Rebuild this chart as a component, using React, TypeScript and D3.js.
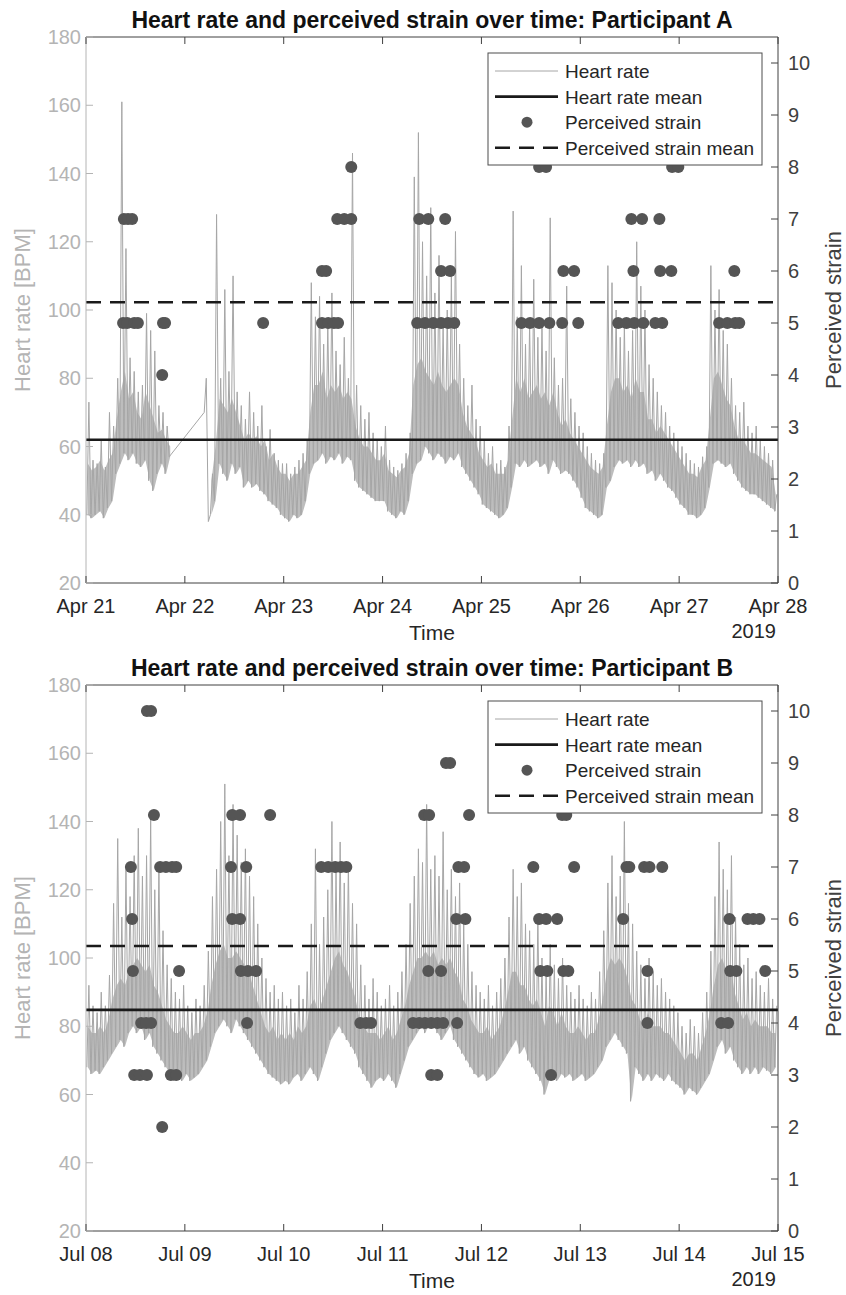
import React from 'react';
import * as d3 from 'd3';

// --------------------------------------------------------
// Participant A (Apr 21 - Apr 28 2019)
// heart rate per hour: low reading, upper edge of the dense band, and the peak reading
// one row per day, null where the recording stops
// --------------------------------------------------------
const hrLowA = [
  40, 39, 40, 41, 39, 42, 44, 52, 55, 58, 56, 58, 55, 54, 56, 50, 47, 52, 55, 52, 57, null, null, null,
  null, null, null, null, null, 80, 40, 44, 55, 52, 50, 55, 52, 54, 48, 50, 48, 49, 47, 46, 44, 43, 42, 40,
  39, 38, 40, 39, 40, 44, 52, 55, 56, 58, 55, 57, 56, 58, 55, 57, 56, 50, 48, 47, 46, 45, 44, 44,
  44, 41, 40, 39, 41, 40, 44, 52, 55, 56, 60, 58, 56, 58, 57, 55, 57, 56, 58, 54, 52, 50, 48, 46,
  43, 42, 41, 40, 39, 40, 42, 48, 55, 54, 56, 54, 55, 56, 54, 55, 52, 56, 54, 52, 53, 52, 50, 48,
  45, 42, 41, 40, 39, 40, 48, 50, 54, 56, 55, 56, 54, 56, 54, 55, 52, 53, 50, 52, 50, 48, 47, 45,
  43, 42, 40, 40, 39, 40, 42, 48, 55, 56, 55, 54, 55, 52, 50, 48, 47, 46, 46, 45, 44, 43, 42, 41,
];
const hrCoreA = [
  55, 53, 54, 56, 53, 56, 58, 68, 76, 82, 74, 76, 70, 68, 76, 72, 68, 64, 65, 62, 60, null, null, null,
  null, null, null, null, null, null, 50, 60, 74, 72, 70, 74, 70, 66, 62, 64, 62, 63, 60, 62, 56, 58, 54, 52,
  52, 50, 52, 52, 54, 56, 70, 78, 78, 82, 74, 78, 76, 78, 74, 76, 74, 66, 62, 60, 60, 58, 56, 56,
  58, 53, 52, 51, 53, 54, 58, 78, 84, 86, 82, 80, 78, 82, 78, 76, 78, 80, 78, 70, 66, 64, 62, 58,
  56, 54, 55, 52, 52, 52, 56, 68, 80, 76, 80, 74, 76, 78, 74, 76, 72, 76, 70, 66, 68, 64, 62, 60,
  58, 56, 54, 53, 52, 54, 66, 76, 80, 80, 76, 78, 74, 80, 76, 76, 68, 68, 64, 66, 64, 62, 60, 58,
  56, 54, 52, 52, 51, 54, 56, 68, 80, 82, 78, 74, 72, 66, 62, 62, 60, 58, 58, 57, 56, 55, 54, 46,
];
const hrPeakA = [
  73, 56, 55, 62, 54, 70, 66, 80, 161, 118, 86, 82, 76, 78, 99, 94, 88, 72, 70, 66, null, null, null, null,
  null, null, null, null, 70, 38, 52, 128, 80, 106, 82, 110, 76, 72, 68, 76, 70, 66, 72, 60, 65, 58, 56, 55,
  55, 52, 54, 56, 58, 62, 108, 98, 104, 90, 96, 105, 88, 84, 92, 80, 146, 78, 72, 68, 70, 64, 62, 60,
  66, 56, 54, 53, 55, 58, 64, 139, 152, 120, 110, 130, 105, 116, 96, 100, 110, 123, 90, 80, 72, 78, 68, 66,
  62, 58, 60, 55, 56, 54, 66, 129, 98, 113, 90, 96, 109, 92, 96, 88, 127, 86, 78, 80, 107, 74, 70, 66,
  64, 60, 58, 56, 55, 58, 113, 108, 100, 92, 96, 88, 94, 120, 107, 100, 84, 80, 76, 72, 70, 66, 64, 62,
  60, 58, 56, 55, 54, 57, 60, 113, 100, 106, 94, 90, 80, 72, 70, 73, 66, 64, 66, 62, 60, 58, 56, 46,
];
// perceived strain: [hours since Apr 21 00:00, rating]
const strainA: [number, number][] = [
  [9.2, 7], [10.2, 7], [11.2, 7],
  [9.0, 5], [10.0, 5], [11.7, 5], [12.6, 5], [18.7, 5], [19.2, 5], [18.5, 4],
  [43.0, 5],
  [57.3, 6], [58.3, 6], [57.3, 5], [58.8, 5], [60.2, 5], [61.2, 5],
  [61.0, 7], [62.7, 7], [64.4, 7], [64.4, 8],
  [80.9, 7], [83.1, 7], [87.2, 7], [86.2, 6], [88.4, 6],
  [80.4, 5], [82.3, 5], [84.3, 5], [86.2, 5], [87.9, 5], [89.4, 5],
  [110.0, 8], [111.7, 8], [115.9, 6], [118.5, 6],
  [105.7, 5], [107.8, 5], [110.0, 5], [112.5, 5], [115.6, 5], [119.5, 5],
  [132.4, 7], [135.0, 7], [139.2, 7], [132.9, 6], [139.4, 6], [142.1, 6],
  [129.2, 5], [131.2, 5], [133.1, 5], [135.3, 5], [138.2, 5], [139.9, 5],
  [142.3, 8], [143.8, 8],
  [157.4, 6], [153.7, 5], [155.7, 5], [157.6, 5], [158.6, 5],
];
const hrMeanA = 62;
const strainMeanA = 5.4;

// --------------------------------------------------------
// Participant B (Jul 08 - Jul 15 2019)
// --------------------------------------------------------
const hrLowB = [
  68, 66, 67, 66, 68, 70, 72, 74, 76, 74, 78, 80, 78, 80, 76, 78, 74, 72, 70, 68, 66, 64, 65, 64,
  66, 64, 65, 66, 68, 70, 74, 78, 80, 82, 80, 78, 82, 80, 78, 76, 74, 72, 70, 68, 66, 65, 64, 63,
  64, 63, 65, 66, 64, 66, 68, 66, 64, 68, 72, 76, 78, 80, 78, 76, 74, 72, 68, 66, 64, 62, 64, 65,
  64, 66, 64, 62, 66, 70, 74, 76, 78, 80, 78, 82, 80, 78, 76, 78, 80, 76, 74, 72, 70, 68, 66, 65,
  66, 64, 65, 66, 68, 70, 72, 74, 76, 72, 74, 70, 68, 66, 64, 60, 64, 66, 64, 66, 65, 66, 64, 65,
  66, 64, 65, 66, 68, 70, 74, 76, 78, 76, 74, 72, 58, 68, 66, 64, 66, 64, 66, 65, 64, 66, 64, 63,
  62, 60, 62, 61, 60, 62, 64, 66, 70, 74, 76, 72, 74, 70, 68, 66, 68, 66, 68, 66, 68, 67, 66, 68,
];
const hrCoreB = [
  80, 78, 78, 80, 78, 82, 88, 92, 94, 92, 96, 98, 100, 98, 96, 98, 92, 90, 86, 82, 80, 78, 78, 80,
  78, 76, 78, 78, 80, 84, 92, 98, 102, 104, 100, 100, 102, 100, 98, 96, 92, 88, 84, 80, 78, 80, 76, 78,
  76, 78, 76, 80, 78, 80, 86, 88, 84, 88, 92, 96, 100, 102, 98, 96, 92, 88, 82, 80, 78, 78, 78, 76,
  78, 80, 76, 78, 82, 86, 92, 96, 100, 100, 102, 100, 102, 98, 100, 98, 100, 96, 94, 88, 86, 82, 80, 78,
  78, 80, 76, 78, 80, 84, 90, 96, 96, 92, 92, 88, 86, 88, 84, 80, 86, 84, 80, 84, 80, 78, 78, 80,
  78, 76, 78, 78, 82, 88, 96, 100, 98, 100, 98, 94, 88, 86, 82, 80, 84, 80, 80, 80, 78, 78, 76, 74,
  72, 70, 72, 72, 70, 74, 78, 84, 92, 98, 100, 96, 98, 90, 86, 82, 84, 80, 82, 80, 80, 80, 78, 78,
];
const hrPeakB = [
  92, 86, 84, 90, 86, 95, 116, 135, 112, 126, 118, 130, 138, 124, 130, 141, 120, 128, 108, 98, 94, 90, 88, 92,
  86, 84, 88, 86, 92, 102, 118, 126, 140, 151, 130, 145, 136, 128, 132, 124, 118, 110, 100, 94, 90, 92, 88, 90,
  86, 88, 84, 92, 88, 96, 110, 132, 104, 112, 120, 140, 126, 134, 122, 128, 116, 110, 98, 92, 88, 94, 90, 86,
  88, 92, 86, 90, 96, 104, 116, 124, 132, 128, 145, 126, 130, 124, 137, 120, 126, 118, 122, 110, 104, 96, 92, 90,
  88, 92, 86, 90, 94, 100, 112, 126, 118, 122, 110, 108, 104, 112, 100, 96, 104, 98, 94, 100, 92, 90, 88, 92,
  88, 86, 90, 88, 96, 108, 122, 130, 118, 124, 140, 116, 110, 102, 98, 94, 100, 96, 92, 94, 90, 88, 86, 84,
  80, 78, 82, 80, 78, 84, 90, 102, 118, 134, 126, 120, 130, 112, 104, 98, 100, 94, 96, 92, 90, 94, 88, 86,
];
const strainB: [number, number][] = [
  [14.8, 10], [15.8, 10],
  [16.5, 8], [35.5, 8], [37.4, 8], [44.7, 8], [82.1, 8], [83.3, 8], [93.0, 8], [115.6, 8], [116.6, 8],
  [87.4, 9], [88.4, 9],
  [10.9, 7], [18.0, 7], [19.4, 7], [20.9, 7], [21.9, 7], [35.2, 7], [38.9, 7],
  [57.1, 7], [58.8, 7], [60.5, 7], [61.9, 7], [63.2, 7], [90.4, 7], [91.8, 7],
  [108.6, 7], [118.5, 7], [131.2, 7], [131.9, 7], [135.5, 7], [136.8, 7], [139.9, 7],
  [11.2, 6], [35.5, 6], [37.4, 6], [89.9, 6], [92.1, 6], [110.0, 6], [111.7, 6], [114.4, 6],
  [130.4, 6], [156.2, 6], [160.6, 6], [162.0, 6], [163.5, 6],
  [11.4, 5], [22.6, 5], [37.6, 5], [39.3, 5], [41.3, 5], [83.1, 5], [86.2, 5],
  [110.3, 5], [112.0, 5], [115.9, 5], [117.1, 5], [136.3, 5], [156.4, 5], [157.9, 5], [164.9, 5],
  [13.4, 4], [14.6, 4], [15.8, 4], [39.1, 4], [66.6, 4], [68.0, 4], [69.2, 4],
  [79.4, 4], [80.9, 4], [82.3, 4], [83.8, 4], [85.3, 4], [86.7, 4], [90.1, 4],
  [136.3, 4], [154.2, 4], [155.9, 4],
  [11.7, 3], [13.1, 3], [14.8, 3], [20.6, 3], [21.9, 3], [83.8, 3], [85.3, 3], [112.9, 3],
  [18.5, 2],
];
const hrMeanB = 84.8;
const strainMeanB = 5.48;

const hrTicks = [20, 40, 60, 80, 100, 120, 140, 160, 180];
const strainTicks = [0, 1, 2, 3, 4, 5, 6, 7, 8, 9, 10];
const legendItems = ['Heart rate', 'Heart rate mean', 'Perceived strain', 'Perceived strain mean'];

const FONT = '"Liberation Sans", Arial, Helvetica, sans-serif';
const LEFT = 86;
const RIGHT = 778;
const HR_GRAY = '#a6a6a6';
const HR_BAND = '#bdbdbd';
const AX_DARK = '#404040';
const AX_LIGHT = '#b4b4b4';

type Num = number | null;
type PanelProps = {
  top: number; bottom: number; titleY: number; title: string; start: Date;
  low: Num[]; core: Num[]; peak: Num[];
  strain: [number, number][]; hrMean: number; strainMean: number;
};

function Panel({ top, bottom, titleY, title, start, low, core, peak, strain, hrMean, strainMean }: PanelProps) {
  const x = d3.scaleTime().domain([start, d3.timeDay.offset(start, 7)]).range([LEFT, RIGHT]);
  const yL = d3.scaleLinear().domain([20, 180]).range([bottom, top]);
  const yR = d3.scaleLinear().domain([0, 10.5]).range([bottom, top]);
  const at = (h: number) => new Date(start.getTime() + h * 3600000);

  // dense band between the low reading and the band edge, one entry per hour
  const hours = low.map((v, i) => i);
  const band = d3.area<number>()
    .defined(i => low[i] != null && core[i] != null)
    .x(i => x(at(i + 0.45)))
    .y0(i => yL(low[i] as number))
    .y1(i => yL(core[i] as number))(hours) || '';

  // heart rate trace: low reading then peak reading in each hour
  const pts: [number, number][] = [];
  low.forEach((v, i) => {
    if (v != null) pts.push([i + 0.2, v]);
    const p = peak[i];
    if (p != null) pts.push([i + 0.7, p]);
  });
  const hrPath = d3.line<[number, number]>()
    .x(d => x(at(d[0])))
    .y(d => yL(d[1]))(pts) || '';

  const days = x.ticks(d3.timeDay.every(1)!);
  const fmt = d3.timeFormat('%b %d');
  const midX = (LEFT + RIGHT) / 2;
  const midY = (top + bottom) / 2;
  const tk = 7;

  // legend geometry
  const lx = 488, lw = 274, ly = top + 16, lh = 112;
  const rowY = (i: number) => ly + 18 + i * 25.6;

  return (
    <g fontFamily={FONT}>
      <text x={midX} y={titleY} textAnchor="middle" fontSize={23} fontWeight="bold" fill="#111">{title}</text>

      {/* data */}
      <path d={band} fill={HR_BAND} stroke="none" />
      <path d={hrPath} fill="none" stroke={HR_GRAY} strokeWidth={1} />
      <line x1={LEFT} x2={RIGHT} y1={yL(hrMean)} y2={yL(hrMean)} stroke="#1a1a1a" strokeWidth={2.6} />
      {strain.map((d, i) => (
        <circle key={i} cx={x(at(d[0]))} cy={yR(d[1])} r={6} fill="#555" />
      ))}
      <line x1={LEFT} x2={RIGHT} y1={yR(strainMean)} y2={yR(strainMean)} stroke="#1a1a1a" strokeWidth={2.6} strokeDasharray="15 9" />

      {/* box + axes */}
      <line x1={LEFT} x2={RIGHT} y1={top} y2={top} stroke={AX_DARK} strokeWidth={1} />
      <line x1={LEFT} x2={RIGHT} y1={bottom} y2={bottom} stroke={AX_DARK} strokeWidth={1} />
      <line x1={LEFT} x2={LEFT} y1={top} y2={bottom} stroke={AX_LIGHT} strokeWidth={1} />
      <line x1={RIGHT} x2={RIGHT} y1={top} y2={bottom} stroke={AX_DARK} strokeWidth={1} />
      {days.map((d, i) => (
        <g key={i}>
          <line x1={x(d)} x2={x(d)} y1={bottom} y2={bottom - tk} stroke={AX_DARK} />
          <line x1={x(d)} x2={x(d)} y1={top} y2={top + tk} stroke={AX_DARK} />
          <text x={x(d)} y={bottom + 30} textAnchor="middle" fontSize={20} fill="#262626">{fmt(d)}</text>
        </g>
      ))}
      {hrTicks.map(t => (
        <g key={t}>
          <line x1={LEFT} x2={LEFT + tk} y1={yL(t)} y2={yL(t)} stroke={AX_LIGHT} />
          <text x={LEFT - 5} y={yL(t) + 7} textAnchor="end" fontSize={20} fill={AX_LIGHT}>{t}</text>
        </g>
      ))}
      {strainTicks.map(t => (
        <g key={t}>
          <line x1={RIGHT} x2={RIGHT - tk} y1={yR(t)} y2={yR(t)} stroke={AX_DARK} />
          <text x={RIGHT + 10} y={yR(t) + 7} fontSize={20} fill={AX_DARK}>{t}</text>
        </g>
      ))}
      <text x={midX} y={bottom + 57} textAnchor="middle" fontSize={21} fill="#262626">Time</text>
      <text x={RIGHT - 2} y={bottom + 55} textAnchor="end" fontSize={20} fill="#262626">{start.getFullYear()}</text>
      <text transform={`translate(30,${midY}) rotate(-90)`} textAnchor="middle" fontSize={22} fill={AX_LIGHT}>Heart rate [BPM]</text>
      <text transform={`translate(841,${midY}) rotate(-90)`} textAnchor="middle" fontSize={22} fill={AX_DARK}>Perceived strain</text>

      {/* legend */}
      <rect x={lx} y={ly} width={lw} height={lh} fill="#fff" stroke="#4d4d4d" strokeWidth={1} />
      <line x1={495} x2={558} y1={rowY(0)} y2={rowY(0)} stroke={HR_GRAY} strokeWidth={1} />
      <line x1={495} x2={558} y1={rowY(1)} y2={rowY(1)} stroke="#1a1a1a" strokeWidth={2.6} />
      <circle cx={527} cy={rowY(2)} r={5.5} fill="#555" />
      <line x1={495} x2={558} y1={rowY(3)} y2={rowY(3)} stroke="#1a1a1a" strokeWidth={2.6} strokeDasharray="15 9" />
      {legendItems.map((s, i) => (
        <text key={s} x={565} y={rowY(i) + 7} fontSize={19} fill="#262626">{s}</text>
      ))}
    </g>
  );
}

export default function App() {
  return (
    <div style={{ position: 'absolute', left: 0, top: 0 }}>
      <svg width={846} height={1295} style={{ display: 'block', background: '#fff' }}>
        <Panel top={37} bottom={583} titleY={28} title="Heart rate and perceived strain over time: Participant A"
          start={new Date(2019, 3, 21)} low={hrLowA} core={hrCoreA} peak={hrPeakA} strain={strainA}
          hrMean={hrMeanA} strainMean={strainMeanA} />
        <Panel top={685} bottom={1231} titleY={676} title="Heart rate and perceived strain over time: Participant B"
          start={new Date(2019, 6, 8)} low={hrLowB} core={hrCoreB} peak={hrPeakB} strain={strainB}
          hrMean={hrMeanB} strainMean={strainMeanB} />
      </svg>
    </div>
  );
}
